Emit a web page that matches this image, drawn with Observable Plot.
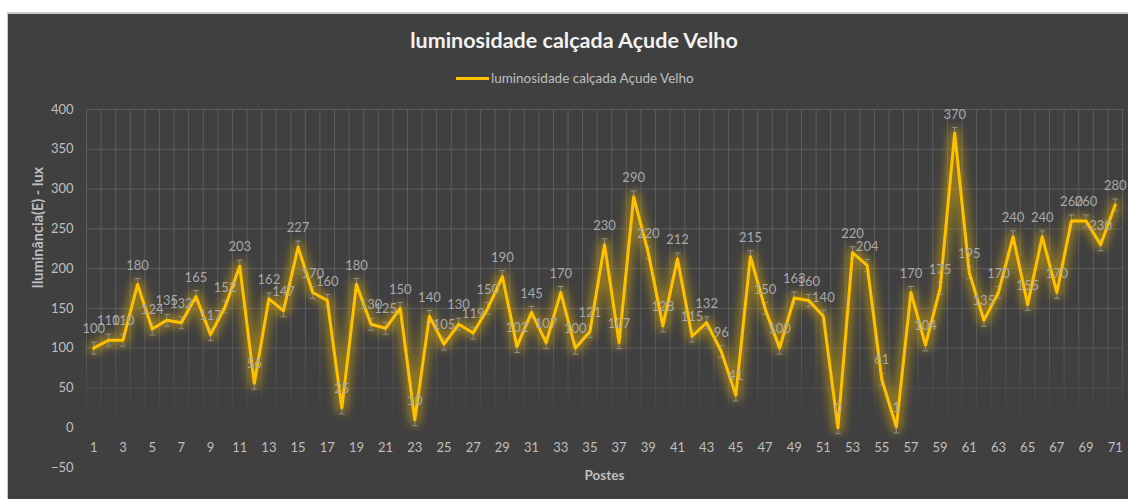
<!DOCTYPE html>
<html><head><meta charset="utf-8">
<script src="https://cdn.jsdelivr.net/npm/d3@7"></script>
<script src="https://cdn.jsdelivr.net/npm/@observablehq/plot@0.6"></script>
<style>
html,body{margin:0;padding:0;background:#fff;}
#wrap{position:relative;width:1128px;height:499px;overflow:hidden;font-family:Lato,"Open Sans",sans-serif;}
#panel{position:absolute;left:7px;top:12px;right:0;bottom:0;background:#404040;border-left:1px solid #c9c9c9;border-top:2px solid #c9c9c9;}
#title{position:absolute;top:27px;left:574px;transform:translateX(-50%);white-space:nowrap;font-weight:700;font-size:21.5px;line-height:26px;color:#f2f2f2;}
#legend{position:absolute;top:70px;left:456px;white-space:nowrap;font-size:13.5px;line-height:17px;color:#bfbfbf;display:flex;align-items:center;}
#legend .sw{display:inline-block;width:33px;height:3px;background:#ffc000;margin-right:2px;}
#chart{position:absolute;left:0;top:95px;}
</style></head>
<body>
<div id="wrap">
  <div id="panel"></div>
  <div id="title">luminosidade calçada Açude Velho</div>
  <div id="legend"><span class="sw"></span><span>luminosidade calçada Açude Velho</span></div>
  <div id="chart"></div>
</div>
<script>
const postes = [1,2,3,4,5,6,7,8,9,10,11,12,13,14,15,16,17,18,19,20,21,22,23,24,25,26,27,28,29,30,31,32,33,34,35,36,37,38,39,40,41,42,43,44,45,46,47,48,49,50,51,52,53,54,55,56,57,58,59,60,61,62,63,64,65,66,67,68,69,70,71];
const luminosidade = [100,110,110,180,124,135,132,165,117,152,203,56,162,147,227,170,160,25,180,130,125,150,10,140,105,130,119,150,190,102,145,107,170,100,121,230,107,290,220,128,212,115,132,96,41,215,150,100,163,160,140,0,220,204,61,1,170,104,175,370,195,135,170,240,155,240,170,260,260,230,280];
const erro = 7.5;
const yTicks = [-50,0,50,100,150,200,250,300,350,400];
const xTicks = [1,3,5,7,9,11,13,15,17,19,21,23,25,27,29,31,33,35,37,39,41,43,45,47,49,51,53,55,57,59,61,63,65,67,69,71];
const gridY = [50,100,150,200,250,300,350,400];
const gridX = postes.map(p => p - 0.5).concat([postes[postes.length-1] + 0.5]);
const yTitle = "Iluminância(E) - lux";
const xTitle = "Postes";

const data = postes.map((p, i) => ({poste: p, lux: luminosidade[i]}));
const txt = "#bfbfbf";

const chart = Plot.plot({
  width: 1128, height: 404,
  marginTop: 14, marginBottom: 32, marginLeft: 86, marginRight: 6,
  style: {background: "transparent", color: txt, fontFamily: "Lato, 'Open Sans', sans-serif", fontSize: "13px", overflow: "visible"},
  x: {domain: [0.5, 71.5], axis: null},
  y: {domain: [-50, 400]},
  marks: [
    Plot.ruleY(gridY, {stroke: "url(#gridfade)", strokeWidth: 1}),
    Plot.ruleX(gridX, {y1: 0, y2: 400, stroke: "url(#gridfade)", strokeWidth: 1}),
    Plot.axisY(yTicks, {tickSize: 0, tickPadding: 13, fontSize: 13, fill: txt, label: null}),
    Plot.text(xTicks, {x: d => d, y: 0, dy: 20, fill: txt, fontSize: 13}),
    Plot.line(data, {x: "poste", y: "lux", stroke: "#e6b400", strokeWidth: 12, strokeOpacity: 0.45, strokeLinejoin: "round"}),
    Plot.ruleX(data, {x: "poste", y1: d => d.lux - erro, y2: d => d.lux + erro, stroke: "#8c8c8c", strokeWidth: 1}),
    Plot.link(data, {x1: d => d.poste - 0.2, x2: d => d.poste + 0.2, y1: d => d.lux + erro, y2: d => d.lux + erro, stroke: "#8c8c8c", strokeWidth: 1}),
    Plot.link(data, {x1: d => d.poste - 0.2, x2: d => d.poste + 0.2, y1: d => d.lux - erro, y2: d => d.lux - erro, stroke: "#8c8c8c", strokeWidth: 1}),
    Plot.line(data, {x: "poste", y: "lux", stroke: "#ffc000", strokeWidth: 3, strokeLinejoin: "round"}),
    Plot.text(data, {x: "poste", y: "lux", text: d => String(d.lux), dy: -19, fill: "#a8a8a8", fontSize: 13}),
    Plot.text([yTitle], {frameAnchor: "left", rotate: -90, dx: -48, fill: txt, fontWeight: "bold", fontSize: 14.5}),
    Plot.text([xTitle], {frameAnchor: "bottom", dy: 12, fill: txt, fontWeight: "bold", fontSize: 13.5})
  ]
});

const ys = chart.scale("y");
const svg = d3.select(chart);
const defs = svg.insert("defs", ":first-child");
const grad = defs.append("linearGradient").attr("id", "gridfade")
  .attr("gradientUnits", "userSpaceOnUse")
  .attr("x1", 0).attr("x2", 0)
  .attr("y1", ys.apply(400)).attr("y2", ys.apply(0));
grad.append("stop").attr("offset", "0").attr("stop-color", "#5c5c5c").attr("stop-opacity", 1);
grad.append("stop").attr("offset", "0.7").attr("stop-color", "#5c5c5c").attr("stop-opacity", 1);
grad.append("stop").attr("offset", "1").attr("stop-color", "#5c5c5c").attr("stop-opacity", 0);
const f = defs.append("filter").attr("id", "glow").attr("x", "-5%").attr("y", "-10%").attr("width", "110%").attr("height", "120%");
f.append("feGaussianBlur").attr("stdDeviation", 4);
const lines = svg.selectAll('g[aria-label="line"]').nodes();
if (lines.length) d3.select(lines[0]).attr("filter", "url(#glow)");

document.getElementById("chart").appendChild(chart);
</script>
</body></html>
